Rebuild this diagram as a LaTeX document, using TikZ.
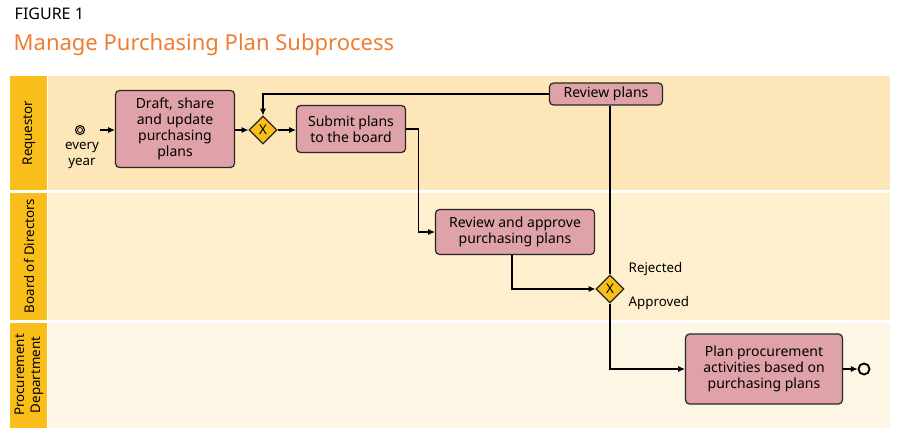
\documentclass[tikz,border=0pt]{standalone}
\usepackage{fontspec}
\setmainfont{Noto Sans}
\usetikzlibrary{shapes.geometric,arrows.meta}
\definecolor{hdr}{HTML}{F9BE1A}
\definecolor{laneA}{HTML}{FDE6B8}
\definecolor{laneB}{HTML}{FEEFCF}
\definecolor{laneC}{HTML}{FEF6E4}
\definecolor{task}{HTML}{DFA2A8}
\definecolor{ttl}{HTML}{EE7D31}
\begin{document}
\begin{tikzpicture}[x=0.75pt,y=-0.75pt,
  task/.style={draw=black!85,fill=task,rounded corners=3pt,line width=0.9pt,align=center,font=\fontsize{10.5}{12}\selectfont,inner sep=2pt},
  gw/.style={diamond,draw=black!85,fill=hdr,line width=0.9pt,minimum size=28*0.75pt,inner sep=0pt,font=\bfseries\fontsize{10}{10}\selectfont},
  flow/.style={-{Latex[length=5pt,width=4.5pt]},line width=0.8pt},
  lbl/.style={font=\fontsize{10}{12}\selectfont,align=center},
  lane/.style={rotate=90,font=\fontsize{10}{12}\selectfont,align=center}]
\useasboundingbox (0,0) rectangle (900,440);
\node[anchor=west,font=\bfseries\fontsize{12}{14}\selectfont] (fig) at (10,14) {FIGURE 1};
\node[anchor=west,text=ttl,font=\fontsize{16.5}{19}\selectfont] (title) at (9,45) {Manage Purchasing Plan Subprocess};
% lanes
\fill[laneA] (48,76) rectangle (890,190);
\fill[laneB] (48,193) rectangle (890,320);
\fill[laneC] (48,323) rectangle (890,428);
\fill[hdr] (10,76) rectangle (47,190);
\fill[hdr] (10,193) rectangle (47,320);
\fill[hdr] (10,323) rectangle (47,428);
\node[lane] (l1) at (29,133) {Requestor};
\node[lane] (l2) at (29,256) {Board of Directors};
\node[lane] (l3) at (29,375) {Procurement\\Department};
% nodes
\node[circle,draw,line width=0.8pt,minimum size=9*0.75pt,inner sep=0pt] (start) at (80,130) {};
\node[circle,draw,line width=0.6pt,minimum size=5*0.75pt,inner sep=0pt] (startin) at (80,130) {};
\node[lbl,anchor=north] (ev) at (82,138) {every\\year};
\coordinate (s0) at (100,130);
\node[task,minimum width=119*0.75pt,minimum height=77*0.75pt,text width=80*0.75pt] (draft) at (175,129) {Draft, share and update purchasing plans};
\node[gw] (g1) at (263,130) {X};
\node[task,minimum width=109*0.75pt,minimum height=47*0.75pt] (submit) at (351,129) {Submit plans\\to the board};
\node[task,minimum width=113*0.75pt,minimum height=22*0.75pt] (rev) at (606,94) {Review plans};
\node[task,minimum width=159*0.75pt,minimum height=45*0.75pt] (appr) at (515,232) {Review and approve\\purchasing plans};
\node[gw] (g2) at (610,289) {X};
\node[lbl,anchor=west] (rej) at (624,269) {Rejected};
\node[lbl,anchor=west] (apr) at (624,303) {Approved};
\node[task,minimum width=157*0.75pt,minimum height=70*0.75pt] (plan) at (764,369) {Plan procurement\\activities based on\\purchasing plans};
\node[circle,draw,line width=1.4pt,minimum size=11*0.75pt,inner sep=0pt] (end) at (864,369) {};
% flows
\draw[flow] (s0) -- (start.east -| draft.west);
\draw[flow] (draft.east |- g1) -- (g1.west);
\draw[flow] (g1.east) -- (submit.west |- g1);
\draw[flow] (submit.east) -- ++(12,0) |- (appr.west);
\draw[flow] (appr.south) ++(-3,0) coordinate (a0) -- (a0 |- g2) -- (g2.west);
\draw[line width=0.8pt] (g2.north) -- (g2.north |- rev.south);
\draw[flow] (rev.west) -| (g1.north);
\draw[flow] (g2.south) |- (plan.west);
\draw[flow] (plan.east) -- (end.west);
\end{tikzpicture}
\end{document}
